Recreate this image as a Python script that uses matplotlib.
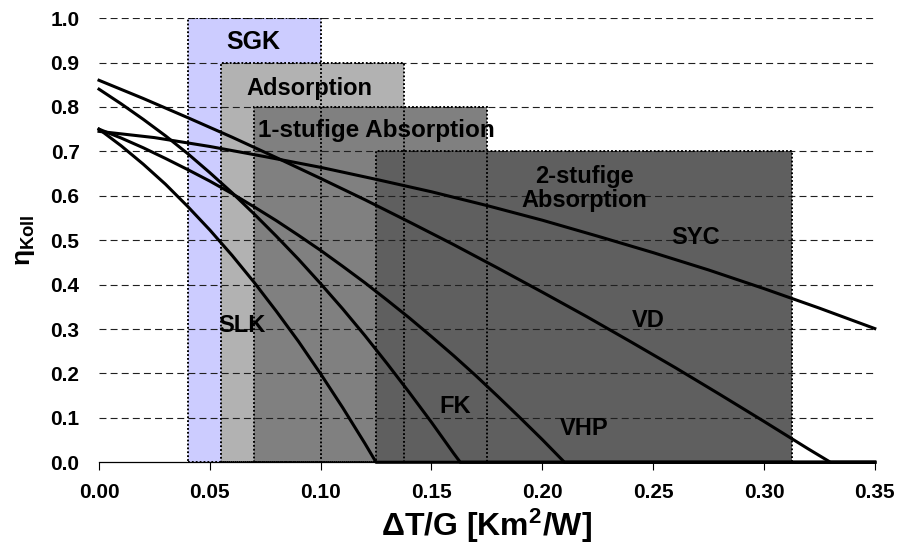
import matplotlib.pyplot as plt
from matplotlib.patches import Rectangle

plt.rcParams['font.family'] = ['Liberation Sans', 'DejaVu Sans']
plt.rcParams['font.weight'] = 'bold'
plt.rcParams['mathtext.fontset'] = 'custom'
plt.rcParams['mathtext.rm'] = 'Liberation Sans:bold'
plt.rcParams['mathtext.bf'] = 'Liberation Sans:bold'
plt.rcParams['mathtext.it'] = 'Liberation Sans:bold'
plt.rcParams['lines.scale_dashes'] = False

# application ranges: name, x from, x to, max efficiency, colour
ranges = ['SGK', 'Adsorption', '1-stufige Absorption', '2-stufige\nAbsorption']
range_x0 = [0.04, 0.055, 0.07, 0.125]
range_x1 = [0.10, 0.1375, 0.175, 0.3125]
range_top = [1.0, 0.9, 0.8, 0.7]
range_colors = ['#ccccff', '#b2b2b2', '#808080', '#5f5f5f']

# collector efficiency curves
slk_x = [0, 0.01, 0.02, 0.03, 0.04, 0.05, 0.06, 0.07, 0.08, 0.09, 0.10, 0.11, 0.12, 0.125, 0.35]
slk_y = [0.75, 0.7125, 0.671, 0.626, 0.576, 0.523, 0.466, 0.405, 0.340, 0.272, 0.199, 0.1225, 0.042, 0.0, 0.0]

fk_x = [0, 0.01, 0.02, 0.03, 0.04, 0.05, 0.06, 0.07, 0.08, 0.09, 0.10, 0.11, 0.12, 0.13, 0.14, 0.15, 0.16, 0.163, 0.35]
fk_y = [0.84, 0.807, 0.772, 0.735, 0.695, 0.652, 0.607, 0.559, 0.509, 0.457, 0.402, 0.345, 0.285, 0.222, 0.157, 0.090, 0.020, 0.0, 0.0]

vhp_x = [0, 0.01, 0.02, 0.03, 0.04, 0.05, 0.06, 0.07, 0.08, 0.09, 0.10, 0.11, 0.12, 0.13, 0.14, 0.15, 0.16, 0.17, 0.18, 0.19, 0.20, 0.21, 0.35]
vhp_y = [0.75, 0.730, 0.708, 0.684, 0.659, 0.633, 0.605, 0.575, 0.544, 0.511, 0.477, 0.441, 0.404, 0.365, 0.325, 0.283, 0.240, 0.195, 0.148, 0.100, 0.051, 0.0, 0.0]

vd_x = [0, 0.02, 0.04, 0.06, 0.08, 0.10, 0.12, 0.14, 0.16, 0.18, 0.20, 0.22, 0.24, 0.26, 0.28, 0.30, 0.32, 0.33, 0.35]
vd_y = [0.86, 0.819, 0.776, 0.732, 0.686, 0.639, 0.591, 0.541, 0.490, 0.437, 0.383, 0.328, 0.271, 0.213, 0.153, 0.092, 0.030, 0.0, 0.0]

syc_x = [0, 0.025, 0.05, 0.075, 0.10, 0.125, 0.15, 0.175, 0.20, 0.225, 0.25, 0.275, 0.30, 0.325, 0.35]
syc_y = [0.745, 0.731, 0.711, 0.688, 0.664, 0.637, 0.609, 0.578, 0.545, 0.509, 0.472, 0.433, 0.391, 0.347, 0.301]

fig = plt.figure(figsize=(9, 5.49), dpi=100)
ax = fig.add_axes([0.11, 0.158, 0.862, 0.809])

# filled ranges first, dotted outlines on top of all fills
for x0, x1, top, c in zip(range_x0, range_x1, range_top, range_colors):
    ax.add_patch(Rectangle((x0, 0), x1 - x0, top, facecolor=c, edgecolor='none', zorder=1))
for x0, x1, top in zip(range_x0, range_x1, range_top):
    ax.add_patch(Rectangle((x0, 0), x1 - x0, top, fill=False, edgecolor='black',
                           linestyle=(0, (1.3, 1.5)), linewidth=1.4, zorder=3))

# dashed horizontal grid
for yv in [0.1, 0.2, 0.3, 0.4, 0.5, 0.6, 0.7, 0.8, 0.9, 1.0]:
    ax.axhline(yv, color='#202020', linewidth=0.8, linestyle=(0, (5, 3)), zorder=2)

for xs, ys in [(slk_x, slk_y), (fk_x, fk_y), (vhp_x, vhp_y), (vd_x, vd_y), (syc_x, syc_y)]:
    ax.plot(xs, ys, color='black', linewidth=2.2, zorder=4, clip_on=False)

tk = dict(fontsize=17, fontweight='bold', ha='center', va='center', zorder=5)
ax.text(0.0695, 0.946, 'SGK', fontsize=18, fontweight='bold', ha='center', va='center', zorder=5)
ax.text(0.095, 0.842, 'Adsorption', **tk)
ax.text(0.0717, 0.748, '1-stufige Absorption', fontsize=17.5, fontweight='bold',
        ha='left', va='center', zorder=5)
ax.text(0.219, 0.616, ranges[3], linespacing=1.05, **tk)
ax.text(0.269, 0.507, 'SYC', **tk)
ax.text(0.2477, 0.32, 'VD', **tk)
ax.text(0.219, 0.077, 'VHP', **tk)
ax.text(0.1606, 0.126, 'FK', **tk)
ax.text(0.0644, 0.309, 'SLK', **tk)

ax.set_xlim(0, 0.35)
ax.set_ylim(0, 1.0)
ax.set_xticks([0, 0.05, 0.10, 0.15, 0.20, 0.25, 0.30, 0.35])
ax.set_xticklabels(['0.00', '0.05', '0.10', '0.15', '0.20', '0.25', '0.30', '0.35'])
ax.set_yticks([0, 0.1, 0.2, 0.3, 0.4, 0.5, 0.6, 0.7, 0.8, 0.9, 1.0])
ax.set_yticklabels(['0.0', '0.1', '0.2', '0.3', '0.4', '0.5', '0.6', '0.7', '0.8', '0.9', '1.0'])
ax.tick_params(axis='x', direction='out', length=6, width=0.8, pad=9, labelsize=15)
ax.tick_params(axis='y', length=0, pad=14, labelsize=15)

for s in ['left', 'top', 'right']:
    ax.spines[s].set_visible(False)
ax.spines['bottom'].set_linewidth(0.9)
ax.spines['bottom'].set_zorder(3)

ax.set_xlabel(r'$\Delta$T/G [Km$^2$/W]', fontsize=23, fontweight='bold', labelpad=3)
ax.set_ylabel(r'$\eta_{Koll}$', fontsize=19, labelpad=10)

fig.savefig('out.png', dpi=100)
